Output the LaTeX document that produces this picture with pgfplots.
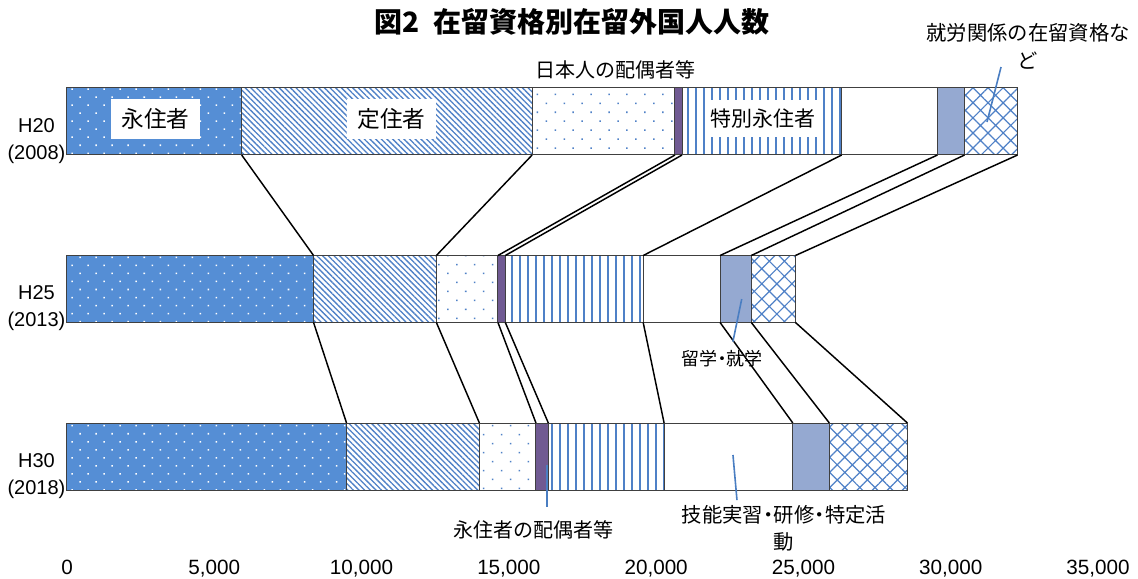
\documentclass[border=0pt]{standalone}
\usepackage{pgfplots}
\pgfplotsset{compat=1.18}
\usepackage{pgfplotstable}
\usetikzlibrary{patterns.meta}
\usepackage{fontspec}
\setmainfont{Liberation Sans}
\newfontfamily\jp{Noto Sans CJK JP}
\newcommand\nd{\hspace{-0.24em}・\hspace{-0.24em}}

\definecolor{eiju}{HTML}{558ED5}
\definecolor{pat}{HTML}{4F81C7}
\definecolor{haigu}{HTML}{705A92}
\definecolor{ryu}{HTML}{95A9D1}
\definecolor{edge}{HTML}{404040}
\definecolor{leadc}{HTML}{4A7EC2}

% persons by status of residence
\pgfplotstableread{
y eiju teiju nihon haigu tokubetsu ginou ryugaku shuro
2 5930 9860 4850 240 5420 3250 920 1800
1 8370 4170 2090 250 4680 2610 1060 1500
0 9490 4510 1920 420 3930 4370 1240 2650
}\zairyu

\pgfplotsset{
  base/.style={
    scale only axis, width=773.25pt, height=376.875pt,
    at={(0,0)}, anchor=south west,
    xmin=0, xmax=35000, ymin=-0.5, ymax=2.5,
    clip=false,
  },
  seg/.style={draw=edge, line width=0.75pt},
  conn/.style={black, line width=1.1pt, no marks},
}
\tikzset{
  leader/.style={draw=leadc, line width=1.2pt},
  jplabel/.style={font=\jp\fontsize{15}{20}\selectfont, align=center},
}

\begin{document}
\begin{tikzpicture}
\useasboundingbox (-50.25pt,-28.3125pt) rectangle (803.25pt,405.1875pt);

% stacked bars
\begin{axis}[base,
    xbar stacked, bar width=0.4,
    axis line style={draw=none}, tick style={draw=none},
    xtick={0,5000,...,35000}, scaled x ticks=false,
    ytick={0,1,2},
    yticklabels={{H30\\(2018)},{H25\\(2013)},{H20\\(2008)}},
    yticklabel style={align=center, font=\fontsize{15}{20.5}\selectfont,
      yshift=-14.5pt, inner sep=1pt},
    xticklabel style={anchor=base, yshift=-26pt, font=\fontsize{15.5}{18}\selectfont},
    /pgf/number format/.cd, 1000 sep={,}, assume math mode=true,
  ]
  \addplot[seg, fill=eiju, postaction={pattern={Dots[distance=8.5pt, angle=45, radius=0.8pt]}, pattern color=white}]
    table[x=eiju, y=y]{\zairyu};
  \addplot[seg, fill=white, postaction={pattern={Lines[angle=-45, distance=3pt, line width=1pt]}, pattern color=pat}]
    table[x=teiju, y=y]{\zairyu};
  \addplot[seg, fill=white, postaction={pattern={Dots[distance=9.5pt, angle=45, radius=0.8pt]}, pattern color=pat}]
    table[x=nihon, y=y]{\zairyu};
  \addplot[seg, fill=haigu]
    table[x=haigu, y=y]{\zairyu};
  \addplot[seg, fill=white, postaction={pattern={Lines[angle=90, distance=6pt, line width=1.4pt]}, pattern color=pat}]
    table[x=tokubetsu, y=y]{\zairyu};
  \addplot[seg, fill=white]
    table[x=ginou, y=y]{\zairyu};
  \addplot[seg, fill=ryu]
    table[x=ryugaku, y=y]{\zairyu};
  \addplot[seg, fill=white, postaction={pattern={Hatch[angle=45, distance=8pt, line width=0.9pt]}, pattern color=pat}]
    table[x=shuro, y=y]{\zairyu};
\end{axis}

% connecting lines and labels
\begin{axis}[base, hide axis]
  % H20 -> H25
  \addplot[conn] coordinates {(5930,1.8) (8370,1.2)};
  \addplot[conn] coordinates {(15790,1.8) (12540,1.2)};
  \addplot[conn] coordinates {(20640,1.8) (14630,1.2)};
  \addplot[conn] coordinates {(20880,1.8) (14880,1.2)};
  \addplot[conn] coordinates {(26300,1.8) (19560,1.2)};
  \addplot[conn] coordinates {(29550,1.8) (22170,1.2)};
  \addplot[conn] coordinates {(30470,1.8) (23230,1.2)};
  \addplot[conn] coordinates {(32270,1.8) (24730,1.2)};
  % H25 -> H30
  \addplot[conn] coordinates {(8370,0.8) (9490,0.2)};
  \addplot[conn] coordinates {(12540,0.8) (14000,0.2)};
  \addplot[conn] coordinates {(14630,0.8) (15920,0.2)};
  \addplot[conn] coordinates {(14880,0.8) (16340,0.2)};
  \addplot[conn] coordinates {(19560,0.8) (20270,0.2)};
  \addplot[conn] coordinates {(22170,0.8) (24640,0.2)};
  \addplot[conn] coordinates {(23230,0.8) (25880,0.2)};
  \addplot[conn] coordinates {(24730,0.8) (28530,0.2)};

  \node[font=\jp\bfseries\fontsize{21}{24}\selectfont] at (axis cs:17144,2.594)
    {図2\hspace{0.5em}在留資格別在留外国人人数};

  \node[fill=white, inner sep=0pt, minimum width=66.75pt, minimum height=30pt,
        font=\jp\fontsize{17}{20}\selectfont] at (axis cs:3004,2.015) {永住者};
  \node[fill=white, inner sep=0pt, minimum width=66.75pt, minimum height=30pt,
        font=\jp\fontsize{17}{20}\selectfont] at (axis cs:11016,2.015) {定住者};
  \node[fill=white, inner sep=0pt, minimum width=86pt, minimum height=28pt,
        font=\jp\fontsize{15.75}{20}\selectfont] at (axis cs:23611,2.018) {特別永住者};

  \node[jplabel] at (axis cs:18637,2.307) {日本人の配偶者等};
  \node[jplabel, font=\jp\fontsize{15.25}{21}\selectfont] at (axis cs:32624,2.451) {就労関係の在留資格な\\ど};
  \draw[leader] (axis cs:31708,2.325) -- (axis cs:31232,1.997);

  \node[jplabel, font=\jp\fontsize{13.5}{18}\selectfont] at (axis cs:22236,0.582) {留学\nd 就学};
  \draw[leader] (axis cs:22905,0.940) -- (axis cs:22606,0.686);

  \node[jplabel] at (axis cs:15837,-0.439) {永住者の配偶者等};
  \draw[leader] (axis cs:16295,-0.051) -- (axis cs:16295,-0.301);

  \node[jplabel, font=\jp\fontsize{15.25}{20}\selectfont] at (axis cs:24340,-0.43) {技能実習\nd 研修\nd 特定活\\動};
  \draw[leader] (axis cs:22608,0.009) -- (axis cs:22744,-0.260);
\end{axis}
\end{tikzpicture}
\end{document}
